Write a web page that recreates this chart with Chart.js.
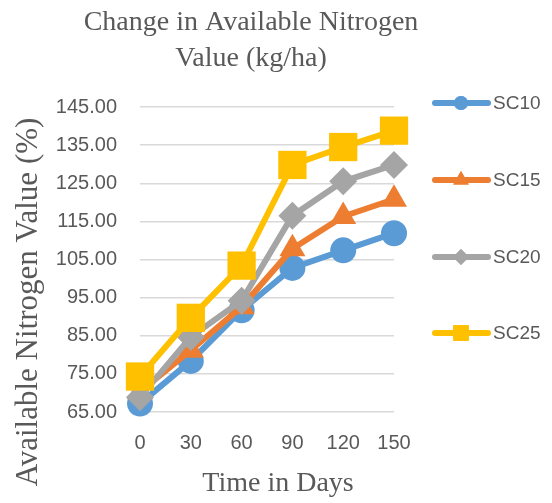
<!DOCTYPE html>
<html>
<head>
<meta charset="utf-8">
<script src="https://cdn.jsdelivr.net/npm/chart.js@4"></script>
<style>
  html, body { margin: 0; padding: 0; background: #fff; }
  #wrap { width: 552px; height: 503px; }
</style>
</head>
<body>
<div id="wrap"><canvas id="nitrogenChart"></canvas></div>
<script>
// Data
const days = ['0', '30', '60', '90', '120', '150'];
const sc10 = [67.2, 78.4, 91.7, 102.8, 107.4, 111.9];
const sc15 = [70.3, 81.2, 92.6, 107.8, 116.3, 120.8];
const sc20 = [68.9, 84.7, 94.2, 116.5, 125.5, 129.8];
const sc25 = [74.3, 89.7, 103.4, 129.8, 134.5, 138.8];
const yTicks = [65, 75, 85, 95, 105, 115, 125, 135, 145];

const GREY = '#595959';
const series = [
    { label: 'SC10', data: sc10, color: '#5b9bd5', style: 'circle', r: 13, lr: 7 },
    { label: 'SC15', data: sc15, color: '#ed7d31', style: 'triangle', r: 15, lr: 9 },
    { label: 'SC20', data: sc20, color: '#a5a5a5', style: 'rectRot', r: 14, lr: 8 },
    { label: 'SC25', data: sc25, color: '#ffc000', style: 'rect', r: 20, lr: 11 }
];

// titles and legend drawn by hand so they sit where the original has them
const decorations = {
    id: 'decorations',
    afterDraw(chart) {
        const ctx = chart.ctx;
        ctx.save();
        ctx.fillStyle = GREY;
        ctx.textAlign = 'center';
        ctx.textBaseline = 'middle';
        ctx.font = '28px "Liberation Serif", "Times New Roman", serif';
        ctx.fillText('Change in Available Nitrogen', 251, 23);
        ctx.fillText('Value (kg/ha)', 251, 59);
        ctx.fillText('Time in Days', 278, 484);

        ctx.save();
        ctx.translate(29, 302);
        ctx.rotate(-Math.PI / 2);
        ctx.font = '31px "Liberation Serif", "Times New Roman", serif';
        ctx.fillText('Available Nitrogen Value (%)', 0, 0);
        ctx.restore();

        // legend
        const legendY = [103, 180, 257, 333];
        ctx.font = '19px "Liberation Sans", Arial, sans-serif';
        ctx.textAlign = 'left';
        series.forEach((s, i) => {
            const y = legendY[i];
            ctx.strokeStyle = s.color;
            ctx.lineWidth = 6;
            ctx.lineCap = 'round';
            ctx.beginPath();
            ctx.moveTo(435, y);
            ctx.lineTo(488, y);
            ctx.stroke();
            ctx.fillStyle = s.color;
            Chart.helpers.drawPoint(ctx, { pointStyle: s.style, radius: s.lr, borderWidth: 0 }, 461, y);
            ctx.fill();
            ctx.fillStyle = GREY;
            ctx.fillText(s.label, 493, y + 1);
        });
        ctx.restore();
    }
};

const ctx = document.getElementById('nitrogenChart').getContext('2d');
new Chart(ctx, {
    type: 'line',
    data: {
        labels: days,
        datasets: series.map((s, i) => ({
            label: s.label,
            data: s.data,
            borderColor: s.color,
            backgroundColor: s.color,
            borderWidth: 6,
            pointStyle: s.style,
            pointRadius: s.r,
            pointBorderWidth: 0,
            pointBackgroundColor: s.color,
            tension: 0,
            clip: false,
            order: series.length - 1 - i
        }))
    },
    options: {
        responsive: true,
        maintainAspectRatio: false,
        animation: false,
        layout: { padding: { left: 10, top: 107, right: 158, bottom: 0 } },
        plugins: {
            legend: { display: false },
            title: { display: false },
            tooltip: { enabled: false }
        },
        scales: {
            x: {
                offset: false,
                grid: { display: false, drawTicks: false },
                border: { display: false },
                ticks: {
                    color: GREY,
                    padding: 19,
                    maxRotation: 0,
                    font: { family: '"Liberation Sans", Arial, sans-serif', size: 20 }
                },
                afterFit(scale) { scale.height = 91; }
            },
            y: {
                min: 65,
                max: 145,
                afterBuildTicks(scale) { scale.ticks = yTicks.map(v => ({ value: v })); },
                grid: { color: '#d9d9d9', lineWidth: 1.5, drawTicks: false },
                border: { display: false },
                ticks: {
                    color: GREY,
                    padding: 23,
                    font: { family: '"Liberation Sans", Arial, sans-serif', size: 20 },
                    callback: v => v.toFixed(2)
                },
                afterFit(scale) { scale.width = 130; }
            }
        }
    },
    plugins: [decorations]
});
</script>
</body>
</html>
